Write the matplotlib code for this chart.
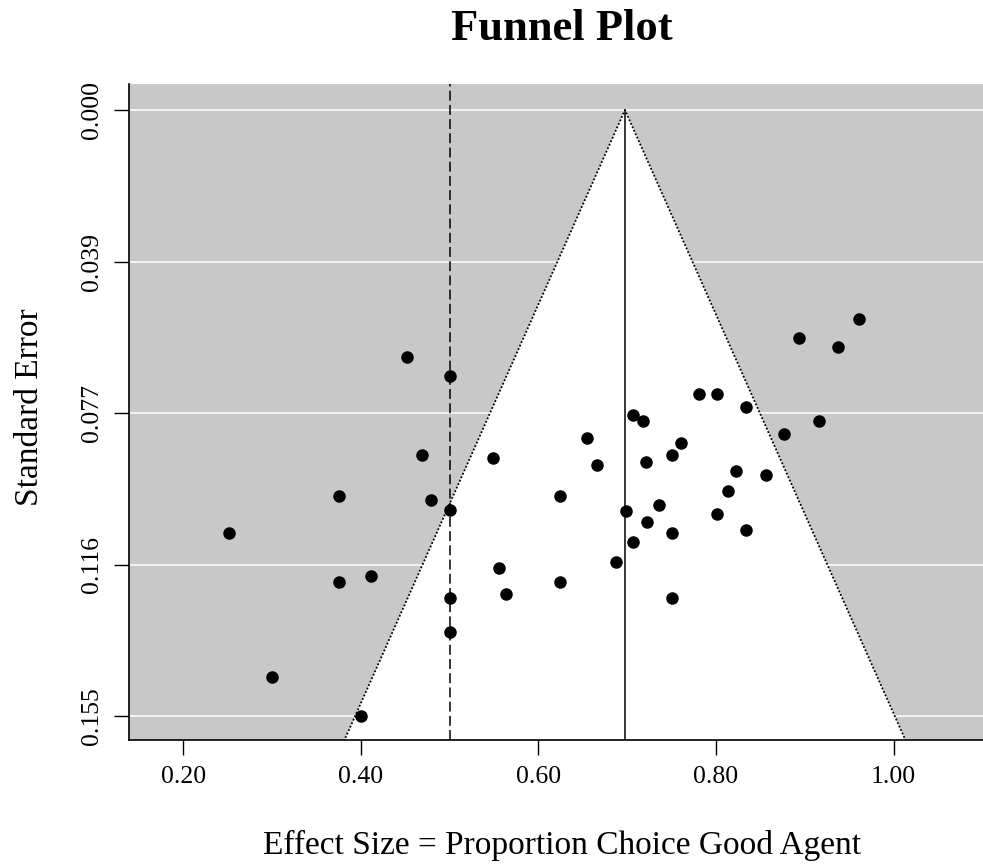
import matplotlib
matplotlib.use('Agg')
from matplotlib import pyplot

# effect size (proportion) and standard error per study
effect = [
    0.452, 0.500, 0.469, 0.549, 0.375, 0.479, 0.500, 0.251, 0.556, 0.375,
    0.411, 0.500, 0.563, 0.500, 0.300, 0.400, 0.961, 0.893, 0.937, 0.781,
    0.801, 0.834, 0.706, 0.718, 0.916, 0.876, 0.655, 0.760, 0.750, 0.666,
    0.721, 0.823, 0.856, 0.624, 0.813, 0.699, 0.736, 0.801, 0.722, 0.750,
    0.834, 0.706, 0.687, 0.624, 0.750
]
std_err = [
    0.0631, 0.0680, 0.0883, 0.0891, 0.0987, 0.0998, 0.1023, 0.1081, 0.1172, 0.1208,
    0.1192, 0.1247, 0.1239, 0.1334, 0.1449, 0.1549, 0.0535, 0.0582, 0.0607, 0.0727,
    0.0727, 0.0760, 0.0779, 0.0795, 0.0795, 0.0828, 0.0838, 0.0852, 0.0883, 0.0907,
    0.0900, 0.0923, 0.0934, 0.0987, 0.0974, 0.1026, 0.1010, 0.1034, 0.1053, 0.1081,
    0.1074, 0.1106, 0.1157, 0.1208, 0.1247
]
pooled = 0.6974
chance = 0.5

x_ticks = [0.2, 0.4, 0.6, 0.8, 1.0]
x_labels = ['0.20', '0.40', '0.60', '0.80', '1.00']
y_ticks = [0.0, 0.03875, 0.0775, 0.11625, 0.155]
y_labels = ['0.000', '0.039', '0.077', '0.116', '0.155']

pyplot.rcParams['font.family'] = ['Liberation Serif', 'DejaVu Serif']

fig = pyplot.figure(figsize=(9.83, 8.65), dpi=100)
ax = fig.add_axes([0.1312, 0.1442, 0.881, 0.7587])
ax.set_facecolor('#c8c8c8')

xmin, xmax = 0.1389, 1.1141
ymin, ymax = -0.00665, 0.1612
ax.set_xlim(xmin, xmax)
ax.set_ylim(ymax, ymin)

# white grid lines on the grey area
for t in y_ticks:
    ax.axhline(t, color='white', lw=1.1, zorder=1)

# pseudo confidence funnel (95%)
se_far = 0.25
tri_x = [pooled, pooled - 1.96 * se_far, pooled + 1.96 * se_far]
tri_y = [0.0, se_far, se_far]
ax.fill(tri_x, tri_y, color='white', lw=0, zorder=2)
ax.plot([pooled - 1.96 * se_far, pooled, pooled + 1.96 * se_far],
        [se_far, 0.0, se_far], color='black', lw=1.3,
        linestyle=(0, (1, 1.1)), zorder=3)

ax.plot([pooled, pooled], [0.0, se_far], color='black', lw=1.1, zorder=3)
ax.axvline(chance, color='black', lw=1.1, linestyle=(0, (6.5, 2.8)), zorder=3)

ax.plot(effect, std_err, 'o', color='black', markersize=8, zorder=4)

for side in ['top', 'right']:
    ax.spines[side].set_visible(False)
for side in ['left', 'bottom']:
    ax.spines[side].set_linewidth(1.2)
    ax.spines[side].set_zorder(5)

ax.set_xticks(x_ticks)
ax.set_xticklabels(x_labels)
ax.set_yticks(y_ticks)
ax.set_yticklabels(y_labels, rotation=90, va='center')
ax.tick_params(axis='both', direction='out', length=10.5, width=1.0,
               labelsize=18.5, pad=8)

ax.set_title('Funnel Plot', fontsize=32, fontweight='bold', y=1.055)
ax.set_xlabel('Effect Size = Proportion Choice Good Agent', fontsize=24)
ax.xaxis.set_label_coords(0.5, -0.137)
ax.set_ylabel('Standard Error', fontsize=24)
ax.yaxis.set_label_coords(-0.097, 0.507)

fig.savefig('out.png', dpi=100)
